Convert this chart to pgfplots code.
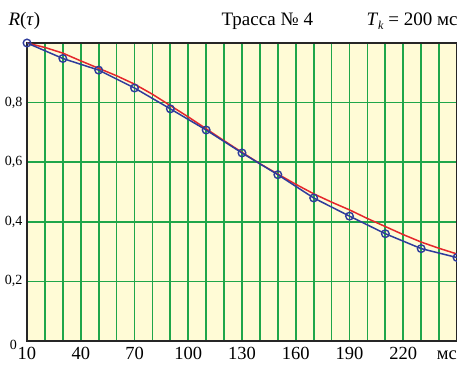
\documentclass[border=0pt]{standalone}
\usepackage{fontspec}
\setmainfont{Liberation Serif}
\usepackage{pgfplots}
\pgfplotsset{compat=1.18}
\definecolor{bg}{HTML}{FFFBD6}
\definecolor{gr}{HTML}{1FA64A}
\definecolor{bl}{HTML}{2F3C9C}
\definecolor{rd}{HTML}{E5262B}
\begin{document}
\begin{tikzpicture}
\begin{axis}[scale only axis, width=430pt, height=298pt,
  xmin=10, xmax=250, ymin=0, ymax=1,
  axis background/.style={fill=bg},
  xtick={10,20,...,240},
  xticklabels={10,,,40,,,70,,,100,,,130,,,160,,,190,,,220,,},
  ytick={0,0.2,0.4,0.6,0.8}, yticklabels={,{0,2},{0,4},{0,6},{0,8}},
  grid=major,
  major grid style={gr, line width=1.7pt},
  major tick length=0pt,
  axis line style={line width=1.4pt, black!85},
  x tick label style={font=\fontsize{18.5}{18.5}\selectfont, yshift=-3pt},
  y tick label style={font=\fontsize{14}{14}\selectfont, xshift=-1pt},
]
\addplot[rd, line width=1.5pt, no marks] coordinates {
(10,1.0) (20,0.985) (30,0.966) (40,0.94) (50,0.915) (60,0.89) (70,0.862)
(80,0.828) (90,0.79) (100,0.752) (110,0.712) (120,0.672) (130,0.633)
(140,0.595) (150,0.56) (160,0.526) (170,0.494) (180,0.466) (190,0.44)
(200,0.411) (210,0.384) (220,0.357) (230,0.332) (240,0.311) (250,0.292)};
\addplot[bl, line width=1.5pt, mark=o, mark size=3.8pt, mark options={line width=1.4pt}] coordinates {
(10,1.0) (30,0.948) (50,0.909) (70,0.849) (90,0.779) (110,0.708) (130,0.631)
(150,0.558) (170,0.480) (190,0.419) (210,0.360) (230,0.310) (250,0.280)};
\end{axis}
\node[anchor=east, font=\fontsize{14}{14}\selectfont, inner sep=0pt] at ([shift={(-10pt,-4pt)}]current axis.south west) {0};
\node[anchor=north east, font=\fontsize{18.5}{18.5}\selectfont, inner sep=0pt] at ([shift={(0pt,-10pt)}]current axis.south east) {мс};
\node[anchor=base west, font=\fontsize{19}{19}\selectfont] at ([shift={(-22pt,315pt)}]current axis.south west) {\textit{R}(\textit{τ})};
\node[anchor=base west, font=\fontsize{19}{19}\selectfont] at ([shift={(191pt,315pt)}]current axis.south west) {Трасса № 4};
\node[anchor=base west, font=\fontsize{19}{19}\selectfont] at ([shift={(336pt,315pt)}]current axis.south west) {\textit{T}\raisebox{-4pt}{\fontsize{12}{12}\selectfont\textit{k}} = 200 мс};
\pgfresetboundingbox
\useasboundingbox ([shift={(-27pt,-27pt)}]current axis.south west) rectangle ([shift={(0pt,43pt)}]current axis.north east);
\end{tikzpicture}
\end{document}
